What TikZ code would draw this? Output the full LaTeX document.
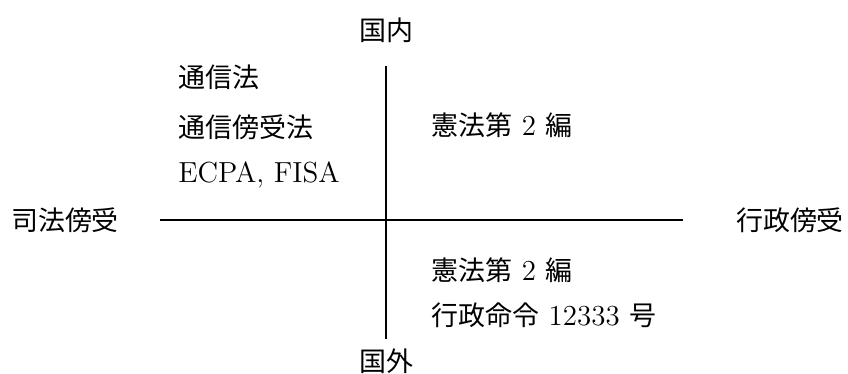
\documentclass[tikz,border=0pt]{standalone}
\usepackage{fontspec}
\newfontfamily\cjk[Scale=0.93]{Noto Sans CJK JP}
\newcommand{\J}[1]{{\cjk #1}}
\begin{document}
\begin{tikzpicture}[x=0.5pt,y=-0.5pt,
  lbl/.style={inner sep=0pt, font=\fontsize{14.5}{17}\selectfont},
  axis/.style={line width=0.6pt, black}]
\useasboundingbox (0,0) rectangle (848,374);
\coordinate (vt) at (386,66);
\coordinate (vb) at (386,339);
\coordinate (hl) at (160,220);
\coordinate (hr) at (683,220);
\draw[axis] (vt) -- (vb);
\draw[axis] (hl) -- (hr);
\node[lbl] (top) at (386,30) {\J{国内}};
\node[lbl] (bot) at (386,361) {\J{国外}};
\node[lbl] (left) at (65,220) {\J{司法傍受}};
\node[lbl] (right) at (790,220) {\J{行政傍受}};
\node[lbl, anchor=west] (a1) at (178,77) {\J{通信法}};
\node[lbl, anchor=west] (a2) at (178,127) {\J{通信傍受法}};
\node[lbl, anchor=west] (a3) at (178,175) {ECPA, FISA};
\node[lbl, anchor=west] (b1) at (431,125) {\J{憲法第} 2 \J{編}};
\node[lbl, anchor=west] (c1) at (431,270) {\J{憲法第} 2 \J{編}};
\node[lbl, anchor=west] (c2) at (431,315) {\J{行政命令} 12333 \J{号}};
\end{tikzpicture}
\end{document}
